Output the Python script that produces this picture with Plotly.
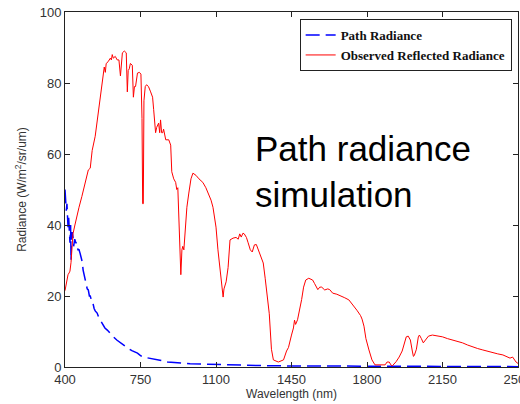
import plotly.graph_objects as go

# Observed reflected radiance (red)
red_wl = [400, 405, 409, 414, 419, 423, 428, 433, 437, 446, 456, 465, 478, 493, 508, 517, 526, 540, 549, 563,
          577, 582, 587, 591, 600, 610, 615, 619, 624, 633, 642, 650, 657, 661, 666, 675, 684, 689, 693, 698,
          703, 712, 717, 722, 727, 736, 745, 752, 757, 760, 763, 766, 772, 778, 787, 797, 806, 811, 820, 825,
          834, 839, 843, 848, 853, 857, 862, 867, 881, 890, 895, 904, 913, 918, 923, 928, 932, 937, 942, 946,
          951, 956, 965, 974, 984, 993, 1007, 1021, 1039, 1053, 1063, 1077, 1086, 1095, 1100, 1109, 1114, 1123, 1133, 1137,
          1147, 1156, 1165, 1179, 1193, 1203, 1210, 1217, 1225, 1231, 1241, 1249, 1259, 1268, 1278, 1287, 1296, 1310, 1319, 1328,
          1338, 1347, 1357, 1366, 1389, 1413, 1427, 1436, 1450, 1459, 1464, 1469, 1478, 1488, 1497, 1506, 1516, 1530, 1548, 1557,
          1567, 1572, 1581, 1590, 1604, 1618, 1627, 1641, 1660, 1674, 1697, 1716, 1735, 1753, 1770, 1777, 1786, 1795, 1809, 1823,
          1837, 1860, 1884, 1893, 1903, 1912, 1917, 1935, 1949, 1963, 1973, 1982, 1991, 2001, 2010, 2015, 2019, 2029, 2038, 2043,
          2052, 2061, 2071, 2085, 2103, 2126, 2150, 2173, 2197, 2220, 2243, 2266, 2290, 2313, 2337, 2360, 2383, 2406, 2430, 2450,
          2463, 2475, 2491, 2500]
red_val = [21.5, 23, 25, 26, 26.5, 27, 29.5, 33, 37.5, 40, 43, 45, 48, 52, 55.5, 56, 61, 65, 69.5, 76,
           83.5, 84.5, 83, 85.5, 86, 87, 86.5, 88, 87, 87.5, 86.5, 86.5, 82, 86.5, 88.5, 89, 88.5, 77.5, 83.5, 84,
           85.5, 85, 76, 79, 79, 82.8, 83, 82.5, 70, 46, 46, 75, 79, 79.5, 79, 77.5, 76, 72.5, 66, 67.5,
           68.7, 66, 69.6, 66, 66, 67, 65, 64, 64, 62.5, 55, 53, 52, 50, 50.5, 40, 30, 26, 33, 34,
           33, 37, 45, 49, 53, 54.6, 54, 53, 52, 50.5, 49, 47, 45, 42, 39.4, 33, 30, 23.7, 19.7, 22,
           24, 28, 35.8, 36.3, 36.5, 36, 37.5, 36.6, 37.7, 37.5, 36.5, 35, 33, 32.4, 34.4, 34.5, 33, 30.5, 29.3, 25,
           20, 15, 5, 2, 1.4, 2, 4.5, 5.5, 9, 11, 13.2, 12, 13.3, 16, 19, 22.5, 24.5, 25, 24.5, 23.5,
           22.5, 21.8, 22.5, 22.5, 21.7, 22, 21.8, 20.8, 20.5, 20.2, 19.5, 18.9, 17.5, 16, 14.5, 13.5, 11.5, 8, 4.8, 2,
           0.6, 0.6, 0.6, 1.4, 1.4, 0.5, 0.3, 1.5, 2.8, 4.5, 6.5, 8.5, 8.7, 7.6, 4.5, 3, 3.2, 5, 8.5, 9,
           8, 6.8, 7.6, 8.7, 9, 8.8, 8.5, 8, 7.6, 7.2, 6.8, 6.2, 5.6, 5.2, 4.8, 4.4, 3.9, 3.7, 3.4, 2.8,
           2.5, 2.8, 1.4, 1.0]

# Path radiance (blue, dashed)
blue_wl = [400, 403, 406, 409, 412, 414, 417, 420, 423, 426, 428, 430, 433, 437, 440, 445, 450, 456, 460, 465,
           470, 475, 480, 484, 488, 493, 498, 503, 508, 513, 517, 522, 526, 531, 535, 540, 549, 556, 563, 575,
           585, 596, 610, 624, 640, 657, 672, 689, 710, 736, 750, 764, 780, 811, 840, 876, 900, 937, 980, 1030,
           1100, 1200, 1300, 1450, 1600, 1800, 2000, 2200, 2500]
blue_val = [50, 48, 44, 46, 40, 39.4, 42, 37, 35, 40, 30, 37, 38, 36.6, 34, 36, 35, 35, 33, 33,
            32, 30.5, 29.6, 27.3, 26, 24.5, 23.5, 22, 21.7, 20, 20, 18.9, 18.9, 17, 16.5, 15.8, 15.2, 14, 13.2, 12,
            11, 10.4, 9.4, 8.5, 7.6, 6.8, 6, 5.4, 4.6, 3.9, 3.2, 2.8, 2.6, 2.3, 1.9, 1.4, 1.2, 1.1, 0.9, 0.8,
            0.7, 0.5, 0.4, 0.3, 0.25, 0.2, 0.2, 0.15, 0.1]

x_ticks = [400, 750, 1100, 1450, 1800, 2150, 2500]
y_ticks = [0, 20, 40, 60, 80, 100]

fig = go.Figure()
fig.add_trace(go.Scatter(x=blue_wl, y=blue_val, mode="lines", name="<b>Path Radiance</b>",
                         line=dict(color="#0000ff", width=1.5, dash="14px,6px")))
fig.add_trace(go.Scatter(x=red_wl, y=red_val, mode="lines", name="<b>Observed Reflected Radiance</b>",
                         line=dict(color="#ff0000", width=1)))

axis_common = dict(showline=True, linecolor="#222222", linewidth=1, mirror="ticks",
                   ticks="inside", ticklen=5, tickcolor="#222222", showgrid=False, zeroline=False,
                   ticklabeloverflow="allow",
                   tickfont=dict(family="Liberation Sans, Arial", size=13, color="#333333"))

fig.update_layout(
    width=520, height=404,
    margin=dict(l=65, r=2, t=12, b=37, autoexpand=False),
    paper_bgcolor="white", plot_bgcolor="white",
    showlegend=True,
    legend=dict(x=0.986, y=0.98, xanchor="right", yanchor="top",
                bgcolor="white", bordercolor="#222222", borderwidth=1,
                font=dict(family="Liberation Serif, Times New Roman", size=13, color="#111111"),
                tracegroupgap=0, itemwidth=30),
    xaxis=dict(range=[400, 2500], tickvals=x_ticks, automargin=False,
               title=dict(text="Wavelength (nm)", standoff=4,
                          font=dict(family="Liberation Sans, Arial", size=12, color="#333333")),
               **axis_common),
    yaxis=dict(range=[0, 100], tickvals=y_ticks, automargin=False,
               title=dict(text="Radiance (W/m<sup>2</sup>/sr/um)", standoff=10,
                          font=dict(family="Liberation Sans, Arial", size=12, color="#333333")),
               **axis_common),
    annotations=[dict(text="Path radiance<br>simulation", xref="paper", yref="paper",
                      x=0.416, y=0.675, xanchor="left", yanchor="top", align="left", showarrow=False,
                      font=dict(family="Liberation Sans, Arial", size=35, color="#000000"))],
)

fig.write_html("out.html")
